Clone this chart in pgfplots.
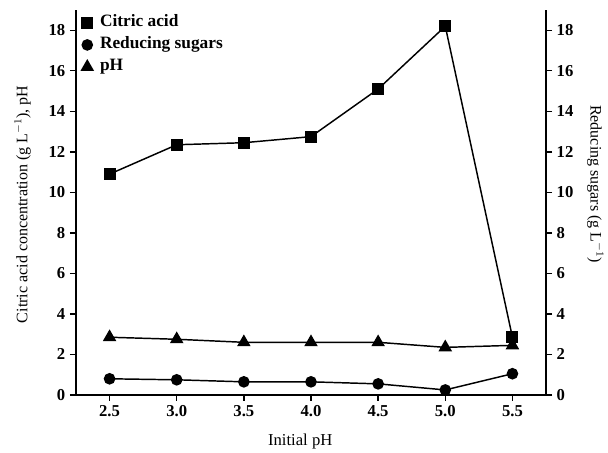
\documentclass[border=0pt]{standalone}
\usepackage{pgfplots}
\pgfplotsset{compat=1.18}
\usepackage{fontspec}
\setmainfont{Liberation Serif}
\begin{document}
\begin{tikzpicture}
\pgfplotsset{
  common/.style={
    scale only axis, width=352.5pt, height=288.75pt,
    xmin=2.25, xmax=5.75, ymin=0, ymax=19,
    ytick={0,2,...,18},
    xtick={2.5,3,...,5.5},
    tick align=outside,
    major tick length=4.5pt,
    every tick/.style={black, line width=1pt},
    axis line style={line width=1.5pt},
    /pgf/number format/assume math mode=true,
    tick label style={font=\fontsize{12.5}{14}\selectfont\bfseries},
    label style={font=\fontsize{12}{14}\selectfont},
  }
}
\begin{axis}[common, name=main,
  axis x line*=bottom, axis y line*=left,
  xticklabel style={/pgf/number format/.cd, fixed, fixed zerofill, precision=1},
  xlabel={Initial pH},
  xlabel style={at={(axis description cs:0.477,-0.121)}, anchor=center, font=\fontsize{12.5}{14}\selectfont},
  ylabel={Citric acid concentration (g L$^{-1}$), pH},
  ylabel style={at={(axis description cs:-0.1135,0.495)}, anchor=center},
  legend style={at={(axis description cs:0,1)}, anchor=north west, xshift=4pt, yshift=-2.5pt,
    draw=none, fill=none, inner sep=0pt,
    font=\fontsize{13}{15}\selectfont\bfseries, row sep=2.5pt,
    nodes={inner sep=1pt, text height=9pt, text depth=3pt},
    legend cell align=left},
  legend image code/.code={\path[draw=none, fill=none] (0cm,0cm) -- (0.45cm,0cm); \draw plot coordinates {(0.15cm,0cm)};},
]
\addplot[black, line width=1.1pt, mark=square*, mark size=3.9pt] coordinates {
(2.5,10.9) (3.0,12.35) (3.5,12.45) (4.0,12.75) (4.5,15.1) (5.0,18.2) (5.5,2.85)};
\addlegendentry{Citric acid}
\addplot[black, line width=1.1pt, mark=*, mark size=3.8pt] coordinates {
(2.5,0.8) (3.0,0.75) (3.5,0.65) (4.0,0.65) (4.5,0.55) (5.0,0.25) (5.5,1.05)};
\addlegendentry{Reducing sugars}
\addplot[black, line width=1.1pt, mark=triangle*, mark size=4.8pt] coordinates {
(2.5,2.85) (3.0,2.75) (3.5,2.6) (4.0,2.6) (4.5,2.6) (5.0,2.35) (5.5,2.45)};
\addlegendentry{pH}
\end{axis}
\begin{axis}[common,
  axis y line*=right, axis x line=none,
  ylabel={Reducing sugars (g L$^{-1}$)},
  ylabel style={at={(axis description cs:1.105,0.548)}, anchor=center, rotate=180},
]
\addplot[draw=none] coordinates {(2.5,0)};
\end{axis}
\pgfresetboundingbox
\path[use as bounding box] ([xshift=-57pt,yshift=-43.5pt]main.south west) rectangle ([xshift=46.5pt,yshift=7.5pt]main.north east);
\end{tikzpicture}
\end{document}
